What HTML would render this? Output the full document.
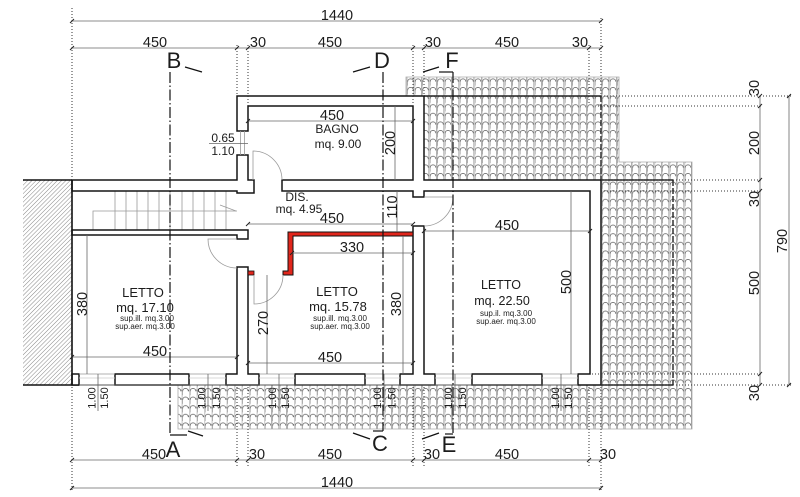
<!DOCTYPE html>
<html><head><meta charset="utf-8">
<style>
html,body{margin:0;padding:0;background:#fff;}
svg{display:block;}
text{font-family:"Liberation Sans Narrow","Liberation Sans",Arial,sans-serif;fill:#1c1c1c;}
.w{fill:#fff;stroke:#151515;stroke-width:1.5;stroke-linejoin:miter;}
.dm{stroke:#666;stroke-width:0.8;fill:none;}
.dt{stroke:#333;stroke-width:1;stroke-dasharray:1 2;fill:none;}
.g{stroke:#999;stroke-width:0.8;fill:none;}
.sec{stroke:#111;stroke-width:1.2;stroke-dasharray:11 2.5 1.5 2.5;fill:none;}
.tk{stroke:#222;stroke-width:1;}
.n{font-size:14.5px;text-anchor:middle;}
.s{font-size:12.5px;text-anchor:middle;}
.xs{font-size:8px;text-anchor:middle;}
.L{font-size:22px;text-anchor:middle;}
.r{font-size:11px;text-anchor:middle;}
</style></head><body>
<svg width="800" height="497" viewBox="0 0 800 497" xmlns="http://www.w3.org/2000/svg">
<defs>
<pattern id="tile" x="406" y="77" width="7.5" height="8.6" patternUnits="userSpaceOnUse">
<rect width="7.5" height="8.6" fill="#fff"/>
<rect x="0" y="0" width="1.8" height="8.6" fill="#cfcfcf"/>
<line x1="0.2" y1="0" x2="0.2" y2="8.6" stroke="#8a8a8a" stroke-width="0.5"/>
<line x1="1.7" y1="3" x2="1.7" y2="8.6" stroke="#8a8a8a" stroke-width="0.5"/>
<path d="M1.7,4.6 C1.7,0.9 7.3,0.9 7.3,4.6" fill="none" stroke="#666" stroke-width="0.8"/>
</pattern>
<pattern id="hatch" width="3" height="3" patternUnits="userSpaceOnUse" patternTransform="rotate(45)">
<line x1="0" y1="0" x2="0" y2="3" stroke="#777" stroke-width="0.9"/>
</pattern>
</defs>

<!-- tiles -->
<path d="M406,77 H619 V162 H692 V429 H178 V385 H601 V180 H424 V96 H406 Z" fill="url(#tile)" stroke="#aaa" stroke-width="0.8"/>

<!-- hatch -->
<rect x="23" y="180" width="49" height="205" fill="url(#hatch)"/>
<line x1="23" y1="180" x2="72" y2="180" stroke="#111" stroke-width="1.6"/>
<line x1="23" y1="385" x2="79" y2="385" stroke="#111" stroke-width="1.6"/>

<!-- roof outlines -->
<line x1="424" y1="96" x2="601" y2="96" stroke="#222" stroke-width="1.5"/>
<line x1="601" y1="96" x2="601" y2="180" stroke="#222" stroke-width="1.4" stroke-dasharray="6 2"/>
<line x1="601" y1="180" x2="673" y2="180" stroke="#222" stroke-width="1.4"/>
<line x1="673" y1="180" x2="673" y2="385" stroke="#222" stroke-width="1.4" stroke-dasharray="6 2"/>
<line x1="601" y1="385" x2="673" y2="385" stroke="#222" stroke-width="1.4"/>

<!-- stairs -->
<g class="g">
<line x1="115" y1="191" x2="115" y2="230"/><line x1="126" y1="191" x2="126" y2="230"/>
<line x1="137" y1="191" x2="137" y2="230"/><line x1="148" y1="191" x2="148" y2="230"/>
<line x1="159" y1="191" x2="159" y2="230"/><line x1="170" y1="191" x2="170" y2="230"/>
<line x1="182" y1="191" x2="182" y2="230"/><line x1="193" y1="191" x2="193" y2="230"/>
<line x1="204" y1="191" x2="204" y2="230"/><line x1="215" y1="191" x2="215" y2="230"/>
<line x1="226" y1="191" x2="226" y2="230"/>
<polyline points="93,230 93,211 237,211"/>
<line x1="220" y1="205" x2="236" y2="211"/>
</g>

<!-- walls -->
<path class="w" d="M237,96 H424 V180 H601 V385 H578 V374 H590 V191 H424 V197 H413 V191 H282 V180 H413 V106 H248 V131 H237 Z"/>
<path class="w" d="M237,155 H248 V180 H254 V193 H237 V191 H72 V180 H237 Z"/>
<path class="w" d="M72,230 H248 V239 H237 V235 H72 Z"/>
<path class="w" d="M237,267 H248 V374 H259 V385 H226 V374 H237 Z"/>
<path class="w" d="M413,226 H424 V374 H435 V385 H400 V374 H413 Z"/>
<rect class="w" x="72" y="374" width="7" height="11"/>
<rect class="w" x="115" y="374" width="74" height="11"/>
<rect class="w" x="295" y="374" width="70" height="11"/>
<rect class="w" x="472" y="374" width="70" height="11"/>
<line x1="72" y1="180" x2="72" y2="385" stroke="#111" stroke-width="1.6"/>

<!-- windows -->
<g stroke="#999" stroke-width="0.8">
<line x1="79" y1="374" x2="115" y2="374"/><line x1="189" y1="374" x2="226" y2="374"/>
<line x1="259" y1="374" x2="295" y2="374"/><line x1="365" y1="374" x2="400" y2="374"/>
<line x1="435" y1="374" x2="472" y2="374"/><line x1="542" y1="374" x2="578" y2="374"/>
<line x1="79" y1="378" x2="115" y2="378" stroke="#ccc"/><line x1="189" y1="378" x2="226" y2="378" stroke="#ccc"/>
<line x1="259" y1="378" x2="295" y2="378" stroke="#ccc"/><line x1="365" y1="378" x2="400" y2="378" stroke="#ccc"/>
<line x1="435" y1="378" x2="472" y2="378" stroke="#ccc"/><line x1="542" y1="378" x2="578" y2="378" stroke="#ccc"/>
<line x1="240.5" y1="131" x2="240.5" y2="155"/><line x1="244.5" y1="131" x2="244.5" y2="155"/>
</g>
<line x1="79" y1="385" x2="578" y2="385" stroke="#555" stroke-width="0.9"/>

<!-- red wall -->
<path d="M288,232 H413 V236 H293 V275 H283 V271 H288 Z" fill="#e1261c" stroke="#111" stroke-width="1"/>
<rect x="248" y="271" width="6" height="4" fill="#e1261c" stroke="#111" stroke-width="0.8"/>

<!-- doors -->
<g class="g">
<path d="M253,180 V151 A29,29 0 0 1 282,180"/>
<path d="M237,239 H208 A29,29 0 0 0 237,268"/>
<path d="M254,275 V304 A29,29 0 0 0 283,275"/>
<path d="M424,197 H453 A29,29 0 0 1 424,226"/>
</g>

<!-- dimension lines -->
<g class="dm">
<line x1="72" y1="21" x2="601" y2="21"/>
<line x1="72" y1="48" x2="601" y2="48"/>
<line x1="72" y1="460" x2="601" y2="460"/>
<line x1="72" y1="488" x2="601" y2="488"/>
<line x1="760" y1="96" x2="760" y2="385"/>
<line x1="789" y1="96" x2="789" y2="385"/>
<line x1="248" y1="121" x2="413" y2="121"/>
<line x1="395" y1="106" x2="395" y2="180"/>
<line x1="248" y1="224" x2="413" y2="224"/>
<line x1="397" y1="191" x2="397" y2="232"/>
<line x1="292" y1="253" x2="413" y2="253"/>
<line x1="424" y1="231" x2="590" y2="231"/>
<line x1="571" y1="191" x2="571" y2="374"/>
<line x1="403" y1="236" x2="403" y2="374"/>
<line x1="267" y1="275" x2="267" y2="374"/>
<line x1="248" y1="363" x2="413" y2="363"/>
<line x1="72" y1="357" x2="237" y2="357"/>
<line x1="87" y1="235" x2="87" y2="374"/>
<line x1="209" y1="143.5" x2="248" y2="143.5"/>
<line x1="98" y1="374" x2="98" y2="411"/>
<line x1="208" y1="374" x2="208" y2="411"/>
<line x1="279" y1="374" x2="279" y2="411"/>
<line x1="384" y1="374" x2="384" y2="411"/>
<line x1="455" y1="374" x2="455" y2="411"/>
<line x1="561" y1="374" x2="561" y2="411"/>
</g>

<!-- ticks -->
<g class="tk">
<path d="M70,23 l4,-4 M599,23 l4,-4 M70,50 l4,-4 M235,50 l4,-4 M246,50 l4,-4 M411,50 l4,-4 M422,50 l4,-4 M587,50 l4,-4 M599,50 l4,-4"/>
<path d="M70,462 l4,-4 M235,462 l4,-4 M246,462 l4,-4 M411,462 l4,-4 M422,462 l4,-4 M587,462 l4,-4 M599,462 l4,-4 M70,490 l4,-4 M599,490 l4,-4"/>
<path d="M758,98 l4,-4 M758,108 l4,-4 M758,182 l4,-4 M758,193 l4,-4 M758,376 l4,-4 M758,387 l4,-4 M787,98 l4,-4 M787,387 l4,-4"/>
<path d="M246,123 l4,-4 M411,123 l4,-4 M246,226 l4,-4 M411,226 l4,-4 M290,255 l4,-4 M411,255 l4,-4 M422,233 l4,-4 M588,233 l4,-4 M70,359 l4,-4 M235,359 l4,-4 M246,365 l4,-4 M411,365 l4,-4"/>
</g>

<!-- dotted extension lines -->
<g class="dt">
<line x1="72" y1="8" x2="72" y2="178"/>
<line x1="601" y1="18" x2="601" y2="96"/>
<line x1="237" y1="45" x2="237" y2="96"/>
<line x1="248" y1="45" x2="248" y2="106"/>
<line x1="413" y1="45" x2="413" y2="104"/>
<line x1="424" y1="45" x2="424" y2="96"/>
<line x1="589" y1="45" x2="589" y2="104"/>
<line x1="72" y1="387" x2="72" y2="491"/>
<line x1="601" y1="387" x2="601" y2="491"/>
<line x1="237" y1="387" x2="237" y2="466"/>
<line x1="248" y1="387" x2="248" y2="466"/>
<line x1="413" y1="387" x2="413" y2="466"/>
<line x1="424" y1="387" x2="424" y2="466"/>
<line x1="589" y1="387" x2="589" y2="466"/>
<line x1="601" y1="96" x2="792" y2="96"/>
<line x1="598" y1="106" x2="762" y2="106"/>
<line x1="601" y1="180" x2="762" y2="180"/>
<line x1="601" y1="191" x2="762" y2="191"/>
<line x1="592" y1="374" x2="762" y2="374"/>
<line x1="601" y1="385" x2="792" y2="385"/>
</g>

<!-- section lines -->
<g class="sec">
<line x1="170" y1="72" x2="170" y2="435"/>
<line x1="383" y1="72" x2="383" y2="431"/>
<line x1="453" y1="72" x2="453" y2="434"/>
</g>
<g stroke="#111" stroke-width="1.2">
<line x1="185" y1="67" x2="202" y2="72"/>
<line x1="353" y1="72" x2="370" y2="67"/>
<line x1="423" y1="72" x2="439" y2="67"/>
<line x1="439" y1="72" x2="453" y2="72"/>
<line x1="170" y1="435" x2="187" y2="435"/>
<line x1="188" y1="431" x2="203" y2="436"/>
<line x1="373" y1="431" x2="383" y2="431"/>
<line x1="353" y1="433" x2="370" y2="439"/>
<line x1="445" y1="434" x2="453" y2="434"/>
<line x1="422" y1="439" x2="439" y2="433"/>
</g>
<text class="L" x="174" y="68">B</text>
<text class="L" x="382" y="68">D</text>
<text class="L" x="452" y="68">F</text>
<text class="L" x="173" y="457">A</text>
<text class="L" x="380" y="451">C</text>
<text class="L" x="449" y="452">E</text>

<!-- dimension labels -->
<text class="n" x="337" y="20">1440</text>
<text class="n" x="155" y="47">450</text>
<text class="n" x="258" y="47">30</text>
<text class="n" x="330" y="47">450</text>
<text class="n" x="433" y="47">30</text>
<text class="n" x="507" y="47">450</text>
<text class="n" x="580" y="47">30</text>
<text class="n" x="154" y="459">450</text>
<text class="n" x="257" y="459">30</text>
<text class="n" x="330" y="459">450</text>
<text class="n" x="432" y="459">30</text>
<text class="n" x="507" y="459">450</text>
<text class="n" x="608" y="459">30</text>
<text class="n" x="337" y="487">1440</text>

<text class="n" x="332" y="120">450</text>
<text class="n" x="332" y="223">450</text>
<text class="n" x="352" y="252">330</text>
<text class="n" x="507" y="230">450</text>
<text class="n" x="330" y="362">450</text>
<text class="n" x="155" y="356">450</text>

<text class="n" transform="translate(759,88) rotate(-90)">30</text>
<text class="n" transform="translate(759,143) rotate(-90)">200</text>
<text class="n" transform="translate(759,199) rotate(-90)">30</text>
<text class="n" transform="translate(759,283) rotate(-90)">500</text>
<text class="n" transform="translate(759,393) rotate(-90)">30</text>
<text class="n" transform="translate(787,241) rotate(-90)">790</text>
<text class="n" transform="translate(395,143) rotate(-90)">200</text>
<text class="n" transform="translate(397,207) rotate(-90)">110</text>
<text class="n" transform="translate(571,282) rotate(-90)">500</text>
<text class="n" transform="translate(401,304) rotate(-90)">380</text>
<text class="n" transform="translate(268,323) rotate(-90)">270</text>
<text class="n" transform="translate(87,304) rotate(-90)">380</text>

<text class="s" x="223" y="142" style="font-size:12px">0.65</text>
<text class="s" x="223" y="155" style="font-size:12px">1.10</text>

<!-- window labels -->
<text class="r" transform="translate(95.5,398) rotate(-90)">1.00</text>
<text class="r" transform="translate(108,398) rotate(-90)">1.50</text>
<text class="r" transform="translate(205.5,398) rotate(-90)">1.00</text>
<text class="r" transform="translate(220,398) rotate(-90)">1.50</text>
<text class="r" transform="translate(276,398) rotate(-90)">1.00</text>
<text class="r" transform="translate(289,398) rotate(-90)">1.50</text>
<text class="r" transform="translate(381,398) rotate(-90)">1.00</text>
<text class="r" transform="translate(395.5,398) rotate(-90)">1.50</text>
<text class="r" transform="translate(452,398) rotate(-90)">1.00</text>
<text class="r" transform="translate(466,398) rotate(-90)">1.50</text>
<text class="r" transform="translate(559,398) rotate(-90)">1.00</text>
<text class="r" transform="translate(572,398) rotate(-90)">1.50</text>

<!-- room labels -->
<text class="s" x="337" y="133" style="font-size:12px">BAGNO</text>
<text class="s" x="338" y="148" style="font-size:12px">mq. 9.00</text>
<text class="s" x="297" y="201" style="font-size:12px">DIS.</text>
<text class="s" x="299" y="213" style="font-size:12px">mq. 4.95</text>

<text class="s" x="143" y="297" style="font-size:13px">LETTO</text>
<text class="s" x="145" y="312" style="font-size:13px">mq. 17.10</text>
<text class="xs" x="147" y="321">sup.ill. mq.3.00</text>
<text class="xs" x="145" y="329">sup.aer. mq.3.00</text>

<text class="s" x="337" y="296" style="font-size:13px">LETTO</text>
<text class="s" x="338" y="311" style="font-size:13px">mq. 15.78</text>
<text class="xs" x="340" y="321">sup.ill. mq.3.00</text>
<text class="xs" x="340" y="329">sup.aer. mq.3.00</text>

<text class="s" x="501" y="289" style="font-size:12.5px">LETTO</text>
<text class="s" x="502" y="305" style="font-size:12.5px">mq. 22.50</text>
<text class="xs" x="506" y="316">sup.il. mq.3.00</text>
<text class="xs" x="506" y="324">sup.aer. mq.3.00</text>
</svg>
</body></html>
